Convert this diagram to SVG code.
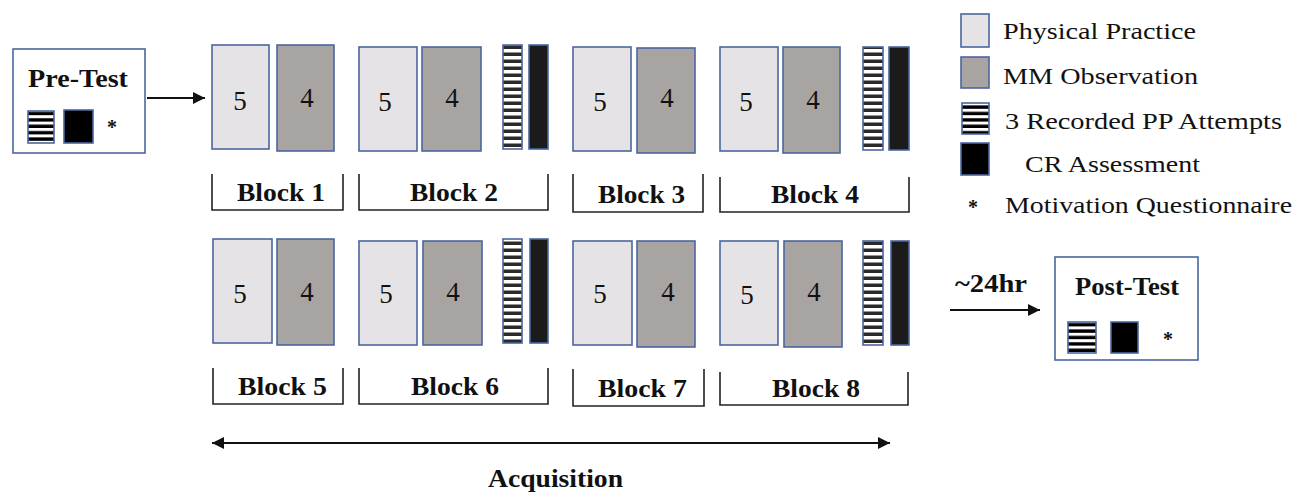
<svg xmlns="http://www.w3.org/2000/svg" width="1309" height="492" viewBox="0 0 1309 492">
<style>
.pp{fill:#e5e3e5;stroke:#4a66a0;stroke-width:1.6}
.mm{fill:#a8a4a2;stroke:#4a66a0;stroke-width:1.6}
.st{fill:url(#stripes);stroke:#4a66a0;stroke-width:1.6}
.sts{fill:url(#stripesS);stroke:#4a66a0;stroke-width:1.6}
.cr{fill:#1b1b1b;stroke:#4a66a0;stroke-width:1.6}
.crs{fill:#000;stroke:#4a66a0;stroke-width:1.6}
.box{fill:#fff;stroke:#4a66a0;stroke-width:1.6}
.br{fill:none;stroke:#222;stroke-width:1.6}
.num{font-family:"Liberation Serif","Times New Roman",serif;font-size:27px;fill:#111;text-anchor:middle}
.blk{font-family:"Liberation Serif","Times New Roman",serif;font-size:25px;font-weight:bold;fill:#111}
.ttl{font-family:"Liberation Serif","Times New Roman",serif;font-size:25px;font-weight:bold;fill:#111}
.leg{font-family:"Liberation Serif","Times New Roman",serif;font-size:24px;fill:#111}
.ast{font-family:"Liberation Serif","Times New Roman",serif;font-size:20px;font-weight:bold;fill:#111;text-anchor:middle}
.ln{stroke:#111;stroke-width:2;fill:none}
</style>
<defs>
<pattern id="stripes" patternUnits="userSpaceOnUse" width="20" height="7">
<rect width="20" height="7" fill="#fff"/>
<rect y="3.5" width="20" height="3.5" fill="#2a2a2a"/>
</pattern>
<pattern id="stripesS" patternUnits="userSpaceOnUse" width="30" height="6.4">
<rect width="30" height="6.4" fill="#fff"/>
<rect y="3" width="30" height="3.4" fill="#000"/>
</pattern>
<marker id="ah" viewBox="0 0 12 12" refX="12" refY="6" markerWidth="12" markerHeight="12" markerUnits="userSpaceOnUse" orient="auto-start-reverse">
<path d="M0,0 L12,6 L0,12 Z" fill="#111"/>
</marker>
</defs>

<g id="pre-test">
<rect class="box" x="13" y="49" width="132" height="104"/>
<text class="ttl" x="28" y="87" textLength="100" lengthAdjust="spacingAndGlyphs">Pre-Test</text>
<rect class="sts" x="28" y="111" width="26" height="32"/>
<rect class="crs" x="64" y="110" width="29" height="33"/>
<text class="ast" x="112" y="134">*</text>
</g>

<g id="block1">
<rect class="pp" x="212" y="45" width="57" height="104"/>
<rect class="mm" x="277" y="45" width="57" height="106"/>
<text class="num" x="240" y="110">5</text>
<text class="num" x="307" y="107">4</text>
<path class="br" d="M212,174 V210 H343 V174"/>
<text class="blk" x="237" y="201" textLength="88" lengthAdjust="spacingAndGlyphs">Block 1</text>
</g>

<g id="block2">
<rect class="pp" x="359" y="47" width="58" height="104"/>
<rect class="mm" x="422" y="47" width="59" height="104"/>
<rect class="st" x="503" y="45" width="19" height="104"/>
<rect class="cr" x="529" y="45" width="19" height="104"/>
<text class="num" x="385" y="111">5</text>
<text class="num" x="452" y="107">4</text>
<path class="br" d="M359,174 V210 H548 V174"/>
<text class="blk" x="410" y="201" textLength="88" lengthAdjust="spacingAndGlyphs">Block 2</text>
</g>

<g id="block3">
<rect class="pp" x="573" y="47" width="58" height="104"/>
<rect class="mm" x="637" y="48" width="58" height="105"/>
<text class="num" x="600" y="111">5</text>
<text class="num" x="667" y="107">4</text>
<path class="br" d="M573,174 V212 H703 V174"/>
<text class="blk" x="598" y="203" textLength="87" lengthAdjust="spacingAndGlyphs">Block 3</text>
</g>

<g id="block4">
<rect class="pp" x="720" y="47" width="58" height="104"/>
<rect class="mm" x="783" y="47" width="57" height="106"/>
<rect class="st" x="863" y="47" width="20" height="103"/>
<rect class="cr" x="889" y="47" width="20" height="103"/>
<text class="num" x="746" y="111">5</text>
<text class="num" x="813" y="109">4</text>
<path class="br" d="M720,177 V212 H909 V177"/>
<text class="blk" x="771" y="203" textLength="88" lengthAdjust="spacingAndGlyphs">Block 4</text>
</g>

<g id="block5">
<rect class="pp" x="213" y="239" width="59" height="104"/>
<rect class="mm" x="277" y="239" width="57" height="106"/>
<text class="num" x="240" y="303">5</text>
<text class="num" x="307" y="301">4</text>
<path class="br" d="M213,368 V404 H343 V368"/>
<text class="blk" x="238" y="395" textLength="89" lengthAdjust="spacingAndGlyphs">Block 5</text>
</g>

<g id="block6">
<rect class="pp" x="359" y="241" width="58" height="104"/>
<rect class="mm" x="423" y="241" width="59" height="104"/>
<rect class="st" x="503" y="239" width="19" height="104"/>
<rect class="cr" x="530" y="239" width="18" height="104"/>
<text class="num" x="386" y="303">5</text>
<text class="num" x="453" y="301">4</text>
<path class="br" d="M359,368 V404 H548 V368"/>
<text class="blk" x="411" y="395" textLength="88" lengthAdjust="spacingAndGlyphs">Block 6</text>
</g>

<g id="block7">
<rect class="pp" x="573" y="241" width="59" height="104"/>
<rect class="mm" x="637" y="241" width="58" height="106"/>
<text class="num" x="600" y="303">5</text>
<text class="num" x="668" y="301">4</text>
<path class="br" d="M573,369 V406 H704 V369"/>
<text class="blk" x="598" y="397" textLength="89" lengthAdjust="spacingAndGlyphs">Block 7</text>
</g>

<g id="block8">
<rect class="pp" x="720" y="241" width="58" height="104"/>
<rect class="mm" x="784" y="241" width="58" height="106"/>
<rect class="st" x="863" y="241" width="20" height="104"/>
<rect class="cr" x="891" y="241" width="18" height="104"/>
<text class="num" x="747" y="304">5</text>
<text class="num" x="814" y="301">4</text>
<path class="br" d="M720,372 V405 H908 V372"/>
<text class="blk" x="772" y="397" textLength="88" lengthAdjust="spacingAndGlyphs">Block 8</text>
</g>

<g id="post-test">
<rect class="box" x="1055" y="257" width="143" height="103"/>
<text class="ttl" x="1075" y="295" textLength="104" lengthAdjust="spacingAndGlyphs">Post-Test</text>
<rect class="sts" x="1068" y="322" width="28" height="31"/>
<rect class="crs" x="1111" y="322" width="27" height="31"/>
<text class="ast" x="1168" y="346">*</text>
</g>

<g id="legend">
<g id="legend-pp">
<rect class="pp" x="961" y="14" width="28" height="33"/>
<text class="leg" x="1003" y="39" textLength="193" lengthAdjust="spacingAndGlyphs">Physical Practice</text>
</g>
<g id="legend-mm">
<rect class="mm" x="961" y="57" width="28" height="31"/>
<text class="leg" x="1003" y="84" textLength="195" lengthAdjust="spacingAndGlyphs">MM Observation</text>
</g>
<g id="legend-rec">
<rect class="sts" x="962" y="103" width="27" height="31"/>
<text class="leg" x="1005" y="129" textLength="277" lengthAdjust="spacingAndGlyphs">3 Recorded PP Attempts</text>
</g>
<g id="legend-cr">
<rect class="crs" x="961" y="143" width="28" height="32"/>
<text class="leg" x="1025" y="172" textLength="175" lengthAdjust="spacingAndGlyphs">CR Assessment</text>
</g>
<g id="legend-mq">
<text class="ast" x="973" y="214">*</text>
<text class="leg" x="1005" y="213" textLength="287" lengthAdjust="spacingAndGlyphs">Motivation Questionnaire</text>
</g>
</g>

<g id="connectors">
<line class="ln" x1="147" y1="98" x2="205" y2="98" marker-end="url(#ah)"/>
<line class="ln" x1="950" y1="310" x2="1040" y2="310" marker-end="url(#ah)"/>
<text class="ttl" x="955" y="292" textLength="72" lengthAdjust="spacingAndGlyphs">~24hr</text>
<line class="ln" x1="212" y1="443" x2="890" y2="443" marker-start="url(#ah)" marker-end="url(#ah)"/>
<text class="ttl" x="488" y="487" textLength="135" lengthAdjust="spacingAndGlyphs">Acquisition</text>
</g>
</svg>
